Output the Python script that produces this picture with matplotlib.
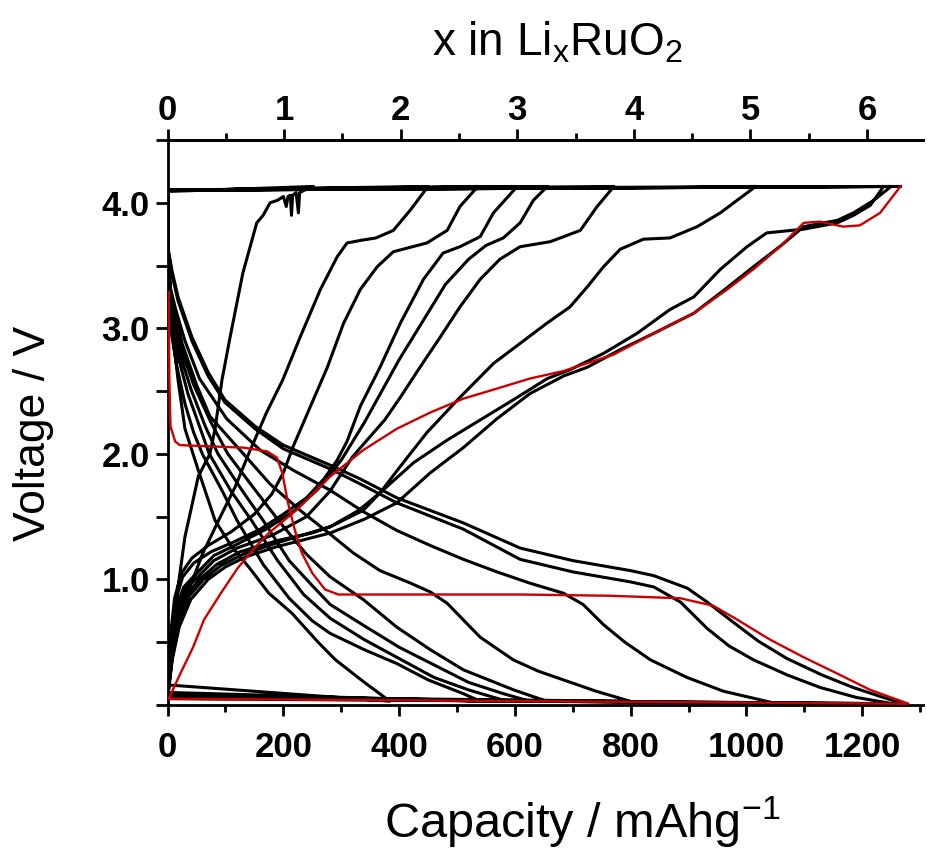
import numpy as np
import matplotlib
matplotlib.use('Agg')
import matplotlib.pyplot as plt
from matplotlib.ticker import MultipleLocator, FixedLocator, FuncFormatter

plt.rcParams['font.family'] = ['Liberation Sans', 'DejaVu Sans']
plt.rcParams['mathtext.fontset'] = 'custom'
plt.rcParams['mathtext.rm'] = 'Liberation Sans'
plt.rcParams['mathtext.it'] = 'Liberation Sans'

# capacity of one Li per RuO2 (mAh/g)
MAH_PER_LI = 201.4

# cycle 1 (red)
d1_cap = [2, 2.5, 3, 5, 13, 21, 73, 131, 172, 189, 198, 208, 220, 232, 250, 272, 295, 341, 500, 609,
          765, 886, 943, 984, 1041, 1099, 1157, 1214, 1280]
d1_v = [3.29, 3.0, 2.59, 2.22, 2.10, 2.07, 2.06, 2.05, 2.02, 1.97, 1.85, 1.61, 1.39, 1.21, 1.05, 0.92, 0.88,
        0.88, 0.88, 0.88, 0.87, 0.85, 0.79, 0.68, 0.52, 0.38, 0.25, 0.12, 0.01]
c1_cap = [2, 22, 44, 63, 92, 121, 150, 175, 222, 281, 338, 396, 454, 511, 569, 626, 684, 770, 840, 909,
          967, 1012, 1058, 1099, 1127, 1167, 1196, 1231, 1266]
c1_v = [0.05, 0.25, 0.46, 0.68, 0.89, 1.09, 1.25, 1.37, 1.55, 1.82, 2.03, 2.20, 2.33, 2.44, 2.52, 2.60, 2.66,
        2.79, 2.96, 3.12, 3.31, 3.47, 3.65, 3.84, 3.85, 3.81, 3.82, 3.92, 4.13]

# cycles 2-10 (black), discharge
d2_cap = [0, 0.5, 1, 8, 18, 42, 70, 99, 151, 200, 281, 333, 396, 511, 609, 700, 800, 840, 898, 932, 977,
          1020, 1070, 1130, 1184, 1230, 1271]
d2_v = [4.10, 3.85, 3.63, 3.45, 3.25, 2.93, 2.65, 2.43, 2.22, 2.07, 1.91, 1.80, 1.65, 1.45, 1.25, 1.15, 1.07,
        1.03, 0.93, 0.82, 0.66, 0.51, 0.37, 0.24, 0.14, 0.07, 0.01]
d3_cap = [0, 0.5, 1, 8, 18, 42, 70, 99, 151, 200, 281, 333, 396, 511, 609, 700, 800, 840, 886, 932, 970,
          1012, 1070, 1127, 1190, 1253]
d3_v = [4.10, 3.82, 3.60, 3.42, 3.22, 2.90, 2.62, 2.41, 2.20, 2.04, 1.88, 1.76, 1.61, 1.40, 1.16, 1.06, 0.98,
        0.94, 0.82, 0.61, 0.47, 0.36, 0.24, 0.14, 0.06, 0.01]
d4_cap = [0, 0.5, 1, 5, 14, 30, 55, 102, 160, 217, 281, 338, 396, 454, 511, 569, 626, 684, 718, 753, 790,
          834, 897, 960, 1053]
d4_v = [4.10, 3.75, 3.55, 3.32, 3.15, 2.90, 2.60, 2.28, 2.03, 1.87, 1.71, 1.54, 1.39, 1.27, 1.16, 1.06, 0.97,
        0.89, 0.80, 0.64, 0.50, 0.36, 0.22, 0.11, 0.01]
d5_cap = [0, 0.5, 1, 5, 12, 25, 50, 73, 131, 177, 229, 281, 321, 367, 420, 454, 483, 540, 597, 640, 684,
          740, 799]
d5_v = [4.10, 3.70, 3.50, 3.25, 3.12, 2.88, 2.55, 2.30, 2.00, 1.76, 1.55, 1.36, 1.21, 1.07, 0.97, 0.90, 0.81,
        0.54, 0.36, 0.27, 0.20, 0.11, 0.03]
d6_cap = [0, 0.5, 1, 4, 10, 22, 45, 75, 104, 150, 195, 240, 281, 338, 396, 454, 511, 598, 655]
d6_v = [4.10, 3.68, 3.50, 3.22, 3.10, 2.86, 2.55, 2.25, 2.00, 1.72, 1.45, 1.20, 1.02, 0.84, 0.62, 0.44, 0.28,
        0.12, 0.03]
d7_cap = [0, 0.5, 1, 4, 9, 20, 40, 65, 87, 130, 165, 210, 250, 281, 340, 400, 460, 520, 580, 626]
d7_v = [4.10, 3.66, 3.46, 3.18, 3.05, 2.82, 2.52, 2.22, 2.00, 1.70, 1.47, 1.15, 0.95, 0.80, 0.63, 0.46, 0.32,
        0.18, 0.09, 0.03]
d8_cap = [0, 0.5, 1, 3, 8, 18, 35, 55, 72, 110, 145, 190, 235, 281, 340, 400, 460, 520, 586]
d8_v = [4.10, 3.62, 3.42, 3.15, 3.00, 2.78, 2.48, 2.22, 2.00, 1.70, 1.47, 1.15, 0.88, 0.69, 0.52, 0.37, 0.22,
        0.12, 0.03]
d9_cap = [0, 0.5, 1, 3, 7, 15, 30, 45, 60, 95, 120, 165, 210, 250, 281, 340, 396, 450, 511, 540]
d9_v = [4.10, 3.60, 3.38, 3.10, 2.95, 2.72, 2.40, 2.17, 2.00, 1.70, 1.47, 1.12, 0.85, 0.67, 0.57, 0.44, 0.33,
        0.20, 0.09, 0.03]
d10_cap = [0, 0.5, 2, 8, 18, 30, 53, 82, 111, 140, 175, 215, 260, 290, 340, 384]
d10_v = [4.10, 3.80, 3.52, 2.99, 2.59, 2.20, 1.87, 1.47, 1.26, 1.10, 0.89, 0.73, 0.50, 0.36, 0.18, 0.03]

# cycles 2-10 (black), charge
c2_cap = [0, 8, 20, 40, 70, 100, 135, 188, 281, 340, 396, 454, 511, 569, 626, 684, 725, 782, 840, 909, 960,
          1012, 1060, 1099, 1157, 1185, 1220, 1250]
c2_v = [0.05, 0.36, 0.62, 0.84, 1.00, 1.10, 1.18, 1.26, 1.37, 1.48, 1.61, 1.85, 2.05, 2.28, 2.48, 2.62, 2.69,
        2.83, 2.96, 3.12, 3.30, 3.49, 3.66, 3.81, 3.86, 3.92, 4.02, 4.13]
c3_cap = [0, 8, 19, 36, 62, 92, 130, 188, 281, 330, 367, 425, 483, 540, 597, 656, 695, 753, 811, 868, 909,
          955, 1001, 1035, 1099, 1157, 1185, 1214, 1237]
c3_v = [0.06, 0.38, 0.64, 0.86, 1.00, 1.11, 1.20, 1.29, 1.42, 1.55, 1.69, 1.93, 2.11, 2.27, 2.43, 2.60, 2.67,
        2.80, 2.96, 3.15, 3.25, 3.47, 3.65, 3.76, 3.79, 3.84, 3.90, 3.98, 4.13]
c4_cap = [0, 7, 18, 33, 55, 85, 125, 190, 250, 281, 338, 367, 402, 448, 505, 563, 609, 655, 695, 725, 753,
          782, 822, 868, 915, 955, 984, 1016]
c4_v = [0.06, 0.40, 0.66, 0.88, 1.00, 1.12, 1.22, 1.31, 1.37, 1.42, 1.55, 1.69, 1.90, 2.17, 2.45, 2.72, 2.88,
        3.04, 3.17, 3.33, 3.49, 3.63, 3.71, 3.72, 3.81, 3.92, 4.02, 4.13]
c5_cap = [0, 6, 16, 30, 48, 80, 120, 180, 240, 280, 320, 375, 402, 436, 471, 505, 540, 574, 609, 661, 713,
          742, 771]
c5_v = [0.07, 0.44, 0.72, 0.92, 1.00, 1.15, 1.25, 1.35, 1.50, 1.70, 1.98, 2.27, 2.45, 2.69, 2.93, 3.17, 3.39,
        3.55, 3.65, 3.69, 3.78, 3.97, 4.13]
c6_cap = [0, 5, 14, 28, 40, 80, 120, 170, 220, 260, 300, 340, 370, 400, 440, 480, 520, 550, 580, 609, 632, 656]
c6_v = [0.07, 0.48, 0.77, 0.94, 1.00, 1.19, 1.28, 1.40, 1.55, 1.72, 1.95, 2.25, 2.50, 2.75, 3.05, 3.35, 3.55,
        3.66, 3.72, 3.84, 4.02, 4.13]
c7_cap = [0, 5, 13, 26, 45, 75, 115, 160, 200, 240, 270, 293, 310, 333, 367, 402, 442, 476, 505, 540, 563, 604]
c7_v = [0.08, 0.52, 0.82, 1.02, 1.13, 1.22, 1.30, 1.40, 1.52, 1.65, 1.80, 1.95, 2.10, 2.38, 2.69, 3.04, 3.39,
        3.60, 3.65, 3.73, 3.92, 4.13]
c8_cap = [0, 5, 12, 24, 42, 70, 110, 150, 180, 200, 217, 246, 276, 304, 333, 362, 390, 448, 483, 505, 536]
c8_v = [0.08, 0.55, 0.85, 1.05, 1.17, 1.27, 1.38, 1.52, 1.68, 1.85, 2.06, 2.37, 2.69, 3.04, 3.31, 3.49, 3.61,
        3.68, 3.78, 3.97, 4.13]
c9_cap = [0, 6, 16, 28, 42, 60, 88, 117, 140, 171, 199, 229, 264, 293, 310, 333, 360, 390, 419, 450]
c9_v = [0.10, 0.40, 0.68, 0.85, 0.98, 1.20, 1.47, 1.74, 2.00, 2.33, 2.59, 2.93, 3.31, 3.57, 3.68, 3.70, 3.72,
        3.78, 3.94, 4.13]
c10_cap = [0, 3, 9.5, 18, 30, 53, 73, 82, 94, 108, 130, 154, 165, 177, 190, 200, 205, 208, 212, 214, 216,
           222, 226, 228, 240, 252]
c10_v = [0.16, 0.40, 0.68, 0.94, 1.34, 1.82, 2.00, 2.20, 2.59, 2.93, 3.44, 3.84, 3.90, 4.00, 4.02, 4.05, 3.97,
         4.05, 4.06, 3.90, 4.06, 4.08, 3.92, 4.08, 4.11, 4.13]

# rest voltage after the last charge
end_cap = [0]
end_v = [4.09]

black_cap = [c1_cap[-1:], d2_cap, c2_cap, d3_cap, c3_cap, d4_cap, c4_cap, d5_cap, c5_cap, d6_cap, c6_cap,
             d7_cap, c7_cap, d8_cap, c8_cap, d9_cap, c9_cap, d10_cap, c10_cap, end_cap]
black_v = [c1_v[-1:], d2_v, c2_v, d3_v, c3_v, d4_v, c4_v, d5_v, c5_v, d6_v, c6_v,
           d7_v, c7_v, d8_v, c8_v, d9_v, c9_v, d10_v, c10_v, end_v]

li_ticks = [0, 1, 2, 3, 4, 5, 6]


def left_fmt(v, pos):
    if v >= 0.99 and abs(v - round(v)) < 1e-6 and v < 4.1:
        return '%.1f' % v
    return ''


def plot_curves():
    fig = plt.figure(figsize=(9.28, 8.5), dpi=100)
    ax = fig.add_axes([0.1806, 0.1706, 0.8140, 0.6647])

    ax.plot(np.concatenate(black_cap), np.concatenate(black_v), color='black', linewidth=2.2,
            solid_joinstyle='round')
    ax.plot(d1_cap + c1_cap, d1_v + c1_v, color='#cc0000', linewidth=1.7, solid_joinstyle='round',
            zorder=3)

    ax.set_xlim(0, 1305)
    ax.set_ylim(0, 4.5)

    for s in ['left', 'bottom', 'top']:
        ax.spines[s].set_linewidth(2.0)
    ax.spines['right'].set_visible(False)

    ax.xaxis.set_major_locator(MultipleLocator(200))
    ax.xaxis.set_minor_locator(MultipleLocator(100))
    ax.yaxis.set_major_locator(FixedLocator(np.arange(0, 4.51, 0.5)))
    ax.yaxis.set_major_formatter(FuncFormatter(left_fmt))

    ax.tick_params(axis='x', which='major', direction='out', length=8, width=2.0, pad=11,
                   labelsize=25)
    ax.tick_params(axis='x', which='minor', direction='out', length=5, width=2.0)
    ax.tick_params(axis='y', which='major', direction='out', length=9, width=2.0, pad=4,
                   labelsize=25)
    for lab in ax.get_xticklabels() + ax.get_yticklabels():
        lab.set_fontweight('bold')

    top = ax.secondary_xaxis('top', functions=(lambda c: c / MAH_PER_LI, lambda x: x * MAH_PER_LI))
    top.xaxis.set_major_locator(FixedLocator(li_ticks))
    top.xaxis.set_minor_locator(FixedLocator(np.arange(0.5, 6.5, 1.0)))
    top.tick_params(axis='x', which='major', direction='out', length=8, width=2.0, pad=1,
                    labelsize=25)
    top.tick_params(axis='x', which='minor', direction='out', length=5, width=2.0)
    top.spines['top'].set_linewidth(2.0)
    for lab in top.get_xticklabels():
        lab.set_fontweight('bold')

    fig.text(0.036, 0.49, 'Voltage / V', rotation=90, fontsize=32, ha='center', va='center')
    fig.text(0.627, 0.032, 'Capacity / mAhg$^{-1}$', fontsize=35, ha='center', va='center')
    fig.text(0.601, 0.95, r'x in Li$_{\mathrm{x}}$RuO$_{2}$', fontsize=33, ha='center', va='center')

    fig.savefig('out.png', dpi=100)


if __name__ == "__main__":
    plot_curves()
